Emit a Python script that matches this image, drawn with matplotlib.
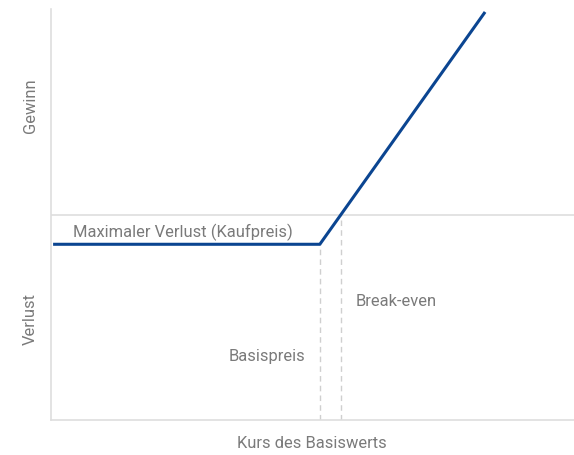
import matplotlib
matplotlib.use("Agg")
import matplotlib.pyplot as plt

# Data (in arbitrary price units)
price_x = [0.4, 51.4, 83.0]          # underlying price points
payoff_y = [-3.9, -3.9, 27.3]       # long call payoff
strike = 51.4
break_even = 55.4
zero_level = 0.0
x_limits = (0, 100)
y_limits = (-27.5, 27.7)

labels = {
    "gain": "Gewinn",
    "loss": "Verlust",
    "xlabel": "Kurs des Basiswerts",
    "maxloss": "Maximaler Verlust (Kaufpreis)",
    "strike": "Basispreis",
    "breakeven": "Break-even",
}

plt.rcParams['font.family'] = ['Roboto', 'DejaVu Sans']
text_color = "#7a7a7a"
line_color = "#0b4591"
grid_color = "#dedede"

fig = plt.figure(figsize=(5.74, 4.56), dpi=100)
ax = fig.add_axes([51/574, 35/456, 523/574, 411/456])
ax.set_xlim(*x_limits)
ax.set_ylim(*y_limits)

for s in ["top", "right"]:
    ax.spines[s].set_visible(False)
for s in ["left", "bottom"]:
    ax.spines[s].set_color(grid_color)
    ax.spines[s].set_linewidth(1.2)
ax.set_xticks([])
ax.set_yticks([])

ax.axhline(zero_level, color=grid_color, lw=1.2, zorder=1)
ax.vlines([strike], y_limits[0], payoff_y[0], colors="#cfcfcf", linestyles=(0, (4, 3)), lw=1, zorder=1)
ax.vlines([break_even], y_limits[0], zero_level, colors="#cfcfcf", linestyles=(0, (4, 3)), lw=1, zorder=1)

ax.plot(price_x, payoff_y, color=line_color, lw=2.2, solid_capstyle="butt", zorder=3)

fs = 11.9
ax.text(4.2, -2.1, labels["maxloss"], color=text_color, fontsize=fs, ha="left", va="center")
ax.text(48.6, -18.9, labels["strike"], color=text_color, fontsize=fs, ha="right", va="center")
ax.text(58.3, -11.4, labels["breakeven"], color=text_color, fontsize=fs, ha="left", va="center")

fig.text(30/574, 1 - 106/456, labels["gain"], rotation=90, color=text_color, fontsize=fs, ha="center", va="center")
fig.text(30/574, 1 - 319/456, labels["loss"], rotation=90, color=text_color, fontsize=fs, ha="center", va="center")
fig.text(312/574, 1 - 444/456, labels["xlabel"], color=text_color, fontsize=fs, ha="center", va="center")

fig.savefig("out.png", dpi=100)
